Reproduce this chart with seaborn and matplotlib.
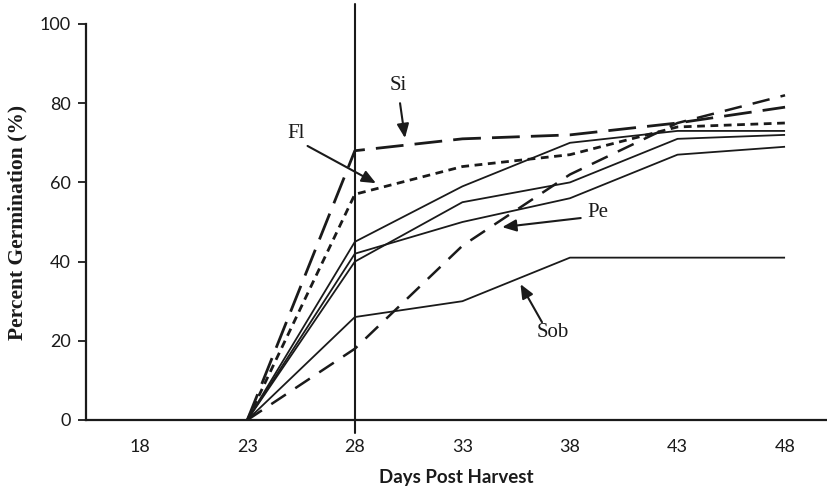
import matplotlib
matplotlib.use("Agg")
import matplotlib.pyplot as plt
import seaborn as sns
import pandas as pd

# Days post harvest shown on the x axis; germination recorded from day 23 on
tick_days = [18, 23, 28, 33, 38, 43, 48]
days = [23, 28, 33, 38, 43, 48]

si = [0, 68, 71, 72, 75, 79]
fl = [0, 57, 64, 67, 74, 75]
rising = [0, 18, 44, 62, 75, 82]
solid_top = [0, 45, 59, 70, 73, 73]
solid_mid = [0, 40, 55, 60, 71, 72]
pe = [0, 42, 50, 56, 67, 69]
sob = [0, 26, 30, 41, 41, 41]

y_ticks = [0, 20, 40, 60, 80, 100]

series = {
    "Si": si,
    "Fl": fl,
    "rising": rising,
    "solid_top": solid_top,
    "solid_mid": solid_mid,
    "Pe": pe,
    "Sob": sob,
}

styles = {
    "Si": dict(lw=2.0, dashes=(10, 4)),
    "Fl": dict(lw=2.0, dashes=(2.8, 2.0)),
    "rising": dict(lw=1.8, dashes=(7, 4.5)),
    "solid_top": dict(lw=1.3, dashes=""),
    "solid_mid": dict(lw=1.3, dashes=""),
    "Pe": dict(lw=1.3, dashes=""),
    "Sob": dict(lw=1.3, dashes=""),
}

frames = []
for name, vals in series.items():
    frames.append(pd.DataFrame({"day": days, "pct": vals, "series": name}))
df = pd.concat(frames, ignore_index=True)

sns.set_theme(style="white")
plt.rcParams["font.family"] = ["Lato", "DejaVu Sans"]

fig = plt.figure(figsize=(8.27, 4.88), dpi=100)
ax = fig.add_axes([86 / 827, 68 / 488, 741 / 827, 396 / 488])

for name in series:
    sub = df[df["series"] == name]
    st = styles[name]
    line_kw = dict(color="#1a1a1a", linewidth=st["lw"])
    if st["dashes"]:
        line_kw["dashes"] = st["dashes"]
    sns.lineplot(data=sub, x="day", y="pct", ax=ax, legend=False,
                 solid_capstyle="butt", dash_capstyle="butt", **line_kw)

# Vertical marker at day 28, running past the plot frame
ax.axvline(28, ymin=-0.033, ymax=1.05, color="#1a1a1a", lw=1.5, clip_on=False)

ax.set_xlim(15.5, 49.95)
ax.set_ylim(0, 100)
ax.set_xticks(tick_days)
ax.set_xticklabels([str(d) for d in tick_days])
ax.set_yticks(y_ticks)
ax.set_yticklabels([str(v) for v in y_ticks])

for side in ("top", "right"):
    ax.spines[side].set_visible(False)
for side in ("left", "bottom"):
    ax.spines[side].set_color("#1a1a1a")
    ax.spines[side].set_linewidth(1.6)

ax.tick_params(axis="x", length=0, pad=14, labelsize=13, colors="#1a1a1a")
ax.tick_params(axis="y", length=6, width=1.3, pad=5, labelsize=13,
               colors="#1a1a1a", left=True)

ax.set_xlabel("Days Post Harvest", fontsize=13.5, fontweight="bold",
              color="#1a1a1a", labelpad=10)
ax.set_ylabel("Percent Germination (%)", fontsize=15.5, fontweight="bold",
              family=["Liberation Serif"], color="#1a1a1a", labelpad=9)

serif = ["Liberation Serif"]
arrow = dict(arrowstyle="-|>,head_length=0.7,head_width=0.3", color="#1a1a1a",
             lw=1.5, shrinkA=0, shrinkB=0)

labels = [
    ("Si", (30.0, 84.5), (30.1, 80.0), (30.33, 71.2)),
    ("Fl", (25.25, 72.3), (25.8, 69.2), (28.98, 59.8)),
    ("Pe", (39.3, 52.3), (38.5, 51.0), (34.85, 48.7)),
    ("Sob", (37.2, 22.0), (36.7, 24.7), (35.7, 34.3)),
]
for text, txt_xy, start_xy, tip_xy in labels:
    ax.text(*txt_xy, text, family=serif, fontsize=15, color="#1a1a1a",
            ha="center", va="center")
    ax.annotate("", xy=tip_xy, xytext=start_xy, arrowprops=arrow)

fig.savefig("out.png", dpi=100)
